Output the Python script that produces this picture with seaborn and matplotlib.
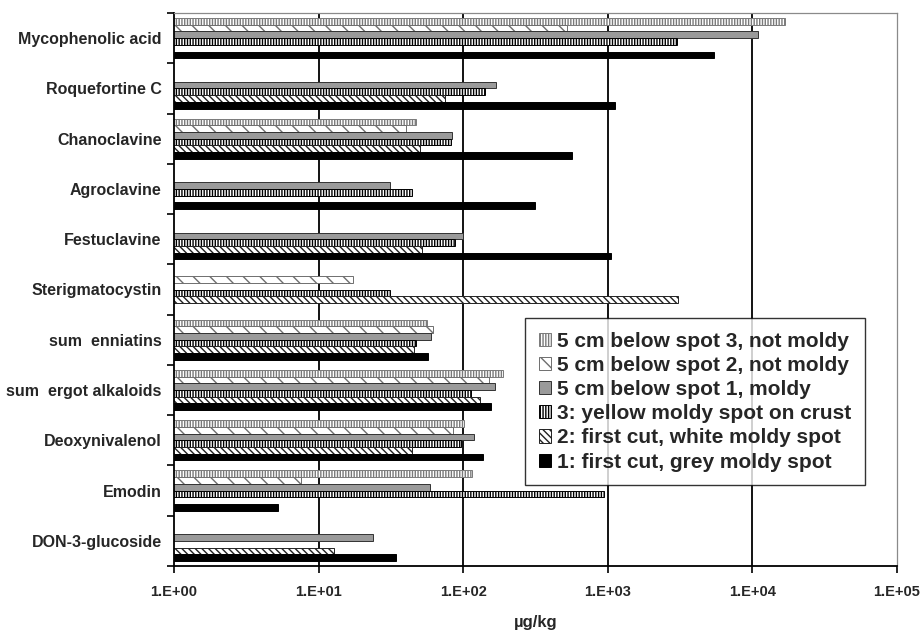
import numpy as np
import pandas as pd
import matplotlib
matplotlib.use("Agg")
import matplotlib.pyplot as plt
import seaborn as sns
from matplotlib.ticker import FixedLocator, FixedFormatter, NullLocator

# ---------------- data ----------------
compounds = ["Mycophenolic acid", "Roquefortine C", "Chanoclavine", "Agroclavine",
             "Festuclavine", "Sterigmatocystin", "sum  enniatins", "sum  ergot alkaloids",
             "Deoxynivalenol", "Emodin", "DON-3-glucoside"]

series_names = ["5 cm below spot 3, not moldy", "5 cm below spot 2, not moldy",
                "5 cm below spot 1, moldy", "3: yellow moldy spot on crust",
                "2: first cut, white moldy spot", "1: first cut, grey moldy spot"]

nan = np.nan
below_spot3 = [16900, nan, 47.5, nan, nan, nan, 56, 189, 101, 115, nan]
below_spot2 = [521, nan, 40.4, nan, nan, 17.3, 62, 150, 85, 7.5, nan]
below_spot1 = [11000, 169, 83.8, 31.4, 100, nan, 60, 166, 118, 58.7, 23.6]
spot3_yellow = [3000, 142, 82.5, 44.3, 88, 31.2, 47.4, 113, 97, 948, nan]
spot2_white = [nan, 74.7, 50.5, nan, 52, 3050, 46, 131, 44, nan, 12.7]
spot1_grey = [5400, 1130, 562, 315, 1060, nan, 57, 156, 137, 5.2, 34.2]

x_ticks = [1, 10, 100, 1000, 10000, 100000]
x_tick_labels = ["1.E+00", "1.E+01", "1.E+02", "1.E+03", "1.E+04", "1.E+05"]
x_label = "µg/kg"

# ---------------- long table ----------------
all_series = [below_spot3, below_spot2, below_spot1, spot3_yellow, spot2_white, spot1_grey]
rows = []
for name, vals in zip(series_names, all_series):
    for comp, v in zip(compounds, vals):
        rows.append({"compound": comp, "series": name, "value": v})
df = pd.DataFrame(rows)

# ---------------- style ----------------
sns.set_theme(style="white")
plt.rcParams["font.family"] = ["Liberation Sans", "DejaVu Sans"]
plt.rcParams["font.weight"] = "bold"
plt.rcParams["hatch.linewidth"] = 1.0

fig = plt.figure(figsize=(9.21, 6.35), dpi=100)
ax = fig.add_axes([174 / 921, 1 - 566 / 635, (897 - 174) / 921, (566 - 13) / 635])

sns.barplot(data=df, x="value", y="compound", hue="series", order=compounds,
            hue_order=series_names, orient="h", width=0.8, errorbar=None,
            legend=False, ax=ax, log_scale=True)

styles = [
    dict(facecolor="white", edgecolor="#7a7a7a", hatch="||||||"),
    dict(facecolor="white", edgecolor="#6e6e6e", hatch="\\\\"),
    dict(facecolor="#9a9a9a", edgecolor="#333333", hatch=None),
    dict(facecolor="white", edgecolor="black", hatch="||||||"),
    dict(facecolor="white", edgecolor="#222222", hatch="\\\\\\\\\\"),
    dict(facecolor="black", edgecolor="black", hatch=None),
]

handles = []
for cont, st in zip(ax.containers, styles):
    for p in cont.patches:
        p.set_facecolor(st["facecolor"])
        p.set_edgecolor(st["edgecolor"])
        p.set_linewidth(0.7)
        if st["hatch"]:
            p.set_hatch(st["hatch"])
    h = plt.Rectangle((0, 0), 1, 1, facecolor=st["facecolor"], edgecolor=st["edgecolor"],
                      linewidth=0.7, hatch=st["hatch"])
    handles.append(h)

ax.set_xscale("log")
ax.set_xlim(1, 1e5)
ax.set_ylim(len(compounds) - 0.5, -0.5)

ax.xaxis.set_major_locator(FixedLocator(x_ticks))
ax.xaxis.set_major_formatter(FixedFormatter(x_tick_labels))
ax.xaxis.set_minor_locator(NullLocator())
ax.tick_params(axis="x", which="major", direction="out", length=5, width=1.2,
               color="black", labelsize=10.5, pad=9, bottom=True)
for t in ax.get_xticklabels():
    t.set_fontweight("bold")

ax.yaxis.set_minor_locator(FixedLocator(np.arange(-0.5, len(compounds), 1.0)))
ax.tick_params(axis="y", which="major", length=0, labelsize=11.5, pad=9)
ax.tick_params(axis="y", which="minor", direction="out", length=5, width=1.2,
               color="black", left=True)
for t in ax.get_yticklabels():
    t.set_fontweight("bold")

ax.grid(False)
for xv in x_ticks[1:-1]:
    ax.axvline(xv, color="black", linewidth=1.3, zorder=0.5)

ax.set_ylabel("")
ax.set_xlabel(x_label, fontsize=12, fontweight="bold", labelpad=11)

for side in ["left", "bottom"]:
    ax.spines[side].set_color("black")
    ax.spines[side].set_linewidth(1.3)
for side in ["top", "right"]:
    ax.spines[side].set_color("#8a8a8a")
    ax.spines[side].set_linewidth(0.9)

leg = ax.legend(handles, series_names, loc="upper left",
                bbox_to_anchor=(0.4855, 0.4485), frameon=True, fancybox=False,
                prop={"weight": "bold", "size": 15}, handlelength=0.6,
                handleheight=0.6, handletextpad=0.3, labelspacing=0.25,
                borderpad=0.65, borderaxespad=0)
leg.get_frame().set_edgecolor("black")
leg.get_frame().set_linewidth(1.0)

fig.savefig("out.png", dpi=100)
